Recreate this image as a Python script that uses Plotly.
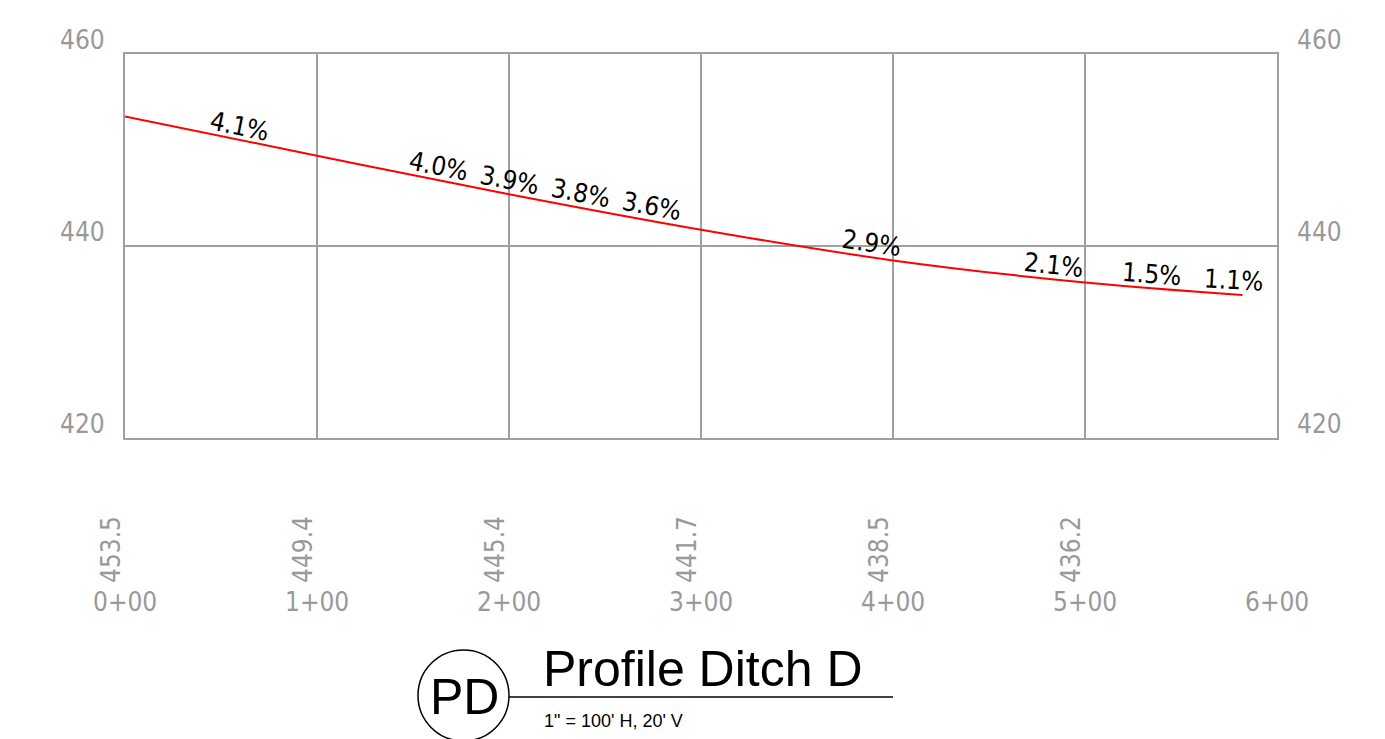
import math
import numpy as np
import plotly.graph_objects as go

# ---- data ----
stations = [0, 100, 200, 300, 400, 500, 582]
elevations = [453.5, 449.4, 445.4, 441.7, 438.5, 436.2, 434.9]

station_ticks = [0, 100, 200, 300, 400, 500, 600]
station_labels = ["0+00", "1+00", "2+00", "3+00", "4+00", "5+00", "6+00"]

elev_label_stations = [0, 100, 200, 300, 400, 500]
elev_labels = ["453.5", "449.4", "445.4", "441.7", "438.5", "436.2"]

slope_stations = [58, 162, 199, 236, 273, 388, 483, 534, 577]
slope_values = [4.1, 4.0, 3.9, 3.8, 3.6, 2.9, 2.1, 1.5, 1.1]

y_ticks = [420, 440, 460]
x_range = [0, 600]
y_range = [420, 460]

# ---- layout geometry (page pixels; page body has 8px default margin) ----
BODY = 8
PAGE_W, PAGE_H = 1385, 739
PL, PT, PR, PB = 125, 54, 1277, 438   # plot area in page pixels
W = PR - PL
H = PB - PT
FIG_W, FIG_H = PAGE_W - BODY, PAGE_H - BODY
ML, MT = PL - BODY, PT - BODY
MR = FIG_W - ML - W
MB = FIG_H - MT - H

def px_x(px):
    return (px - PL) / W

def px_y(py):
    return (PB - py) / H

GRID = "#a0a0a0"
LABEL = "#999999"
FONT = "DejaVu Sans Condensed, DejaVu Sans, sans-serif"
TFONT = "Liberation Sans, Arial, sans-serif"

fig = go.Figure()
fig.add_trace(go.Scatter(
    x=stations, y=elevations, mode="lines",
    line=dict(color="#ff0000", width=2, shape="spline"),
    hoverinfo="skip", showlegend=False,
))

ann = []
# y labels (both sides, above gridlines)
for yv in y_ticks:
    for side in (0, 1):
        ann.append(dict(
            x=side, xref="paper", y=yv, yref="y",
            text=str(yv), showarrow=False,
            xanchor="right" if side == 0 else "left",
            xshift=-18 if side == 0 else 18, yshift=14,
            yanchor="middle",
            font=dict(family=FONT, size=26, color=LABEL),
        ))

# station labels
for s, lab in zip(station_ticks, station_labels):
    ann.append(dict(
        x=s, xref="x", y=px_y(602), yref="paper",
        text=lab, showarrow=False, xanchor="center", yanchor="middle",
        font=dict(family=FONT, size=26, color=LABEL),
    ))

# elevation labels (rotated)
for s, lab in zip(elev_label_stations, elev_labels):
    ann.append(dict(
        x=s, xref="x", y=px_y(550), yref="paper",
        text=lab, showarrow=False, textangle=-90,
        xanchor="center", yanchor="middle", xshift=-14,
        font=dict(family=FONT, size=26, color=LABEL),
    ))

# slope labels along the line
px_per_ft_x = W / (x_range[1] - x_range[0])
px_per_ft_y = H / (y_range[1] - y_range[0])
for s, v in zip(slope_stations, slope_values):
    e = float(np.interp(s, stations, elevations))
    ang = math.degrees(math.atan(v / 100 * px_per_ft_y / px_per_ft_x))
    off = 14
    ann.append(dict(
        x=s, xref="x", y=e, yref="y",
        text=f"{v:.1f}%", showarrow=False, textangle=ang,
        xanchor="center", yanchor="middle",
        xshift=off * math.sin(math.radians(ang)),
        yshift=off * math.cos(math.radians(ang)),
        font=dict(family=FONT, size=26, color="#000000"),
    ))

# title block
ann.append(dict(
    x=px_x(464), xref="paper", y=px_y(697), yref="paper",
    text="PD", showarrow=False, xanchor="center", yanchor="middle",
    font=dict(family=TFONT, size=50, color="#000000"),
))
ann.append(dict(
    x=px_x(541), xref="paper", y=px_y(699), yref="paper",
    text="Profile Ditch D", showarrow=False, xanchor="left", yanchor="bottom",
    font=dict(family=TFONT, size=50, color="#000000"),
))
ann.append(dict(
    x=px_x(542), xref="paper", y=px_y(721), yref="paper",
    text="1\" = 100' H, 20' V", showarrow=False, xanchor="left", yanchor="middle",
    font=dict(family=TFONT, size=18, color="#000000"),
))

shapes = [
    dict(type="circle", xref="paper", yref="paper",
         x0=px_x(418), x1=px_x(509), y0=px_y(650), y1=px_y(741),
         line=dict(color="#000000", width=1.5)),
    dict(type="line", xref="paper", yref="paper",
         x0=px_x(509), x1=px_x(893), y0=px_y(697), y1=px_y(697),
         line=dict(color="#000000", width=1.5)),
]

axis_common = dict(
    showgrid=True, gridcolor=GRID, gridwidth=2,
    showline=True, linecolor=GRID, linewidth=2, mirror=True,
    zeroline=False, showticklabels=False, ticks="",
)
fig.update_layout(
    width=FIG_W, height=FIG_H,
    margin=dict(l=ML, r=MR, t=MT, b=MB, pad=0),
    paper_bgcolor="white", plot_bgcolor="white",
    xaxis=dict(range=x_range, tickvals=station_ticks, **axis_common),
    yaxis=dict(range=y_range, tickvals=y_ticks, **axis_common),
    annotations=ann, shapes=shapes,
)

fig.write_html("out.html")
